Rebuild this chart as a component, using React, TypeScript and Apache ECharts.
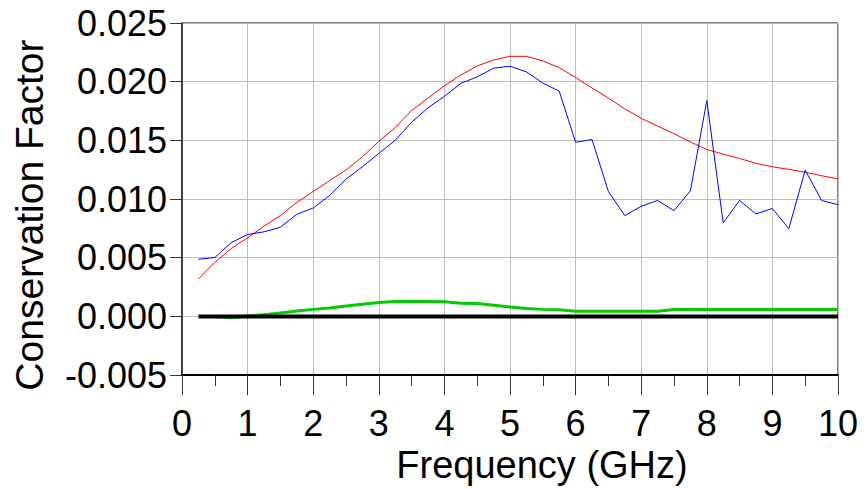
import React, { useEffect, useRef } from "react";
import * as echarts from "echarts";

const freq = [
  0.25, 0.5, 0.75, 1.0, 1.25, 1.5, 1.75, 2.0, 2.25, 2.5, 2.75, 3.0, 3.25, 3.5, 3.75, 4.0,
  4.25, 4.5, 4.75, 5.0, 5.25, 5.5, 5.75, 6.0, 6.25, 6.5, 6.75, 7.0, 7.25, 7.5, 7.75, 8.0,
  8.25, 8.5, 8.75, 9.0, 9.25, 9.5, 9.75, 10.0,
];

const blueValues = [
  0.00487, 0.00502, 0.00628, 0.00698, 0.00721, 0.0076, 0.0087, 0.00924, 0.0103, 0.0117,
  0.01275, 0.01389, 0.015, 0.01655, 0.01777, 0.01875, 0.01985, 0.02041, 0.02115, 0.02132,
  0.02084, 0.01988, 0.0192, 0.01484, 0.01507, 0.01064, 0.00859, 0.00938, 0.00988, 0.00901,
  0.0107, 0.01839, 0.00797, 0.00988, 0.00873, 0.0092, 0.00747, 0.01247, 0.00988, 0.00952,
];

const redValues = [
  0.00318, 0.0046, 0.00578, 0.0067, 0.00769, 0.00859, 0.00971, 0.01064, 0.01157, 0.01247,
  0.0136, 0.01492, 0.01608, 0.01754, 0.01861, 0.01965, 0.02056, 0.02134, 0.02185, 0.02216,
  0.02216, 0.02177, 0.0212, 0.02036, 0.01946, 0.01861, 0.01768, 0.01689, 0.01622, 0.01557,
  0.01487, 0.01422, 0.01383, 0.01346, 0.01304, 0.01275, 0.01253, 0.01228, 0.01199, 0.01171,
];

const greenValues: (number | null)[] = [
  null, 0.0, -0.00012, 0.00003, 0.00014, 0.0003, 0.00046, 0.0006, 0.00072, 0.00088,
  0.00104, 0.00118, 0.00128, 0.00127, 0.00127, 0.00125, 0.00113, 0.0011, 0.00096, 0.0008,
  0.00067, 0.0006, 0.00056, 0.00044, 0.00045, 0.00045, 0.00045, 0.00045, 0.00044, 0.00058,
  0.00059, 0.00059, 0.00058, 0.00058, 0.00058, 0.00058, 0.00058, 0.00058, 0.00058, 0.00058,
];

const blackValues = [
  0, 0, 0, 0, 0, 0, 0, 0, 0, 0, 0, 0, 0, 0, 0, 0, 0, 0, 0, 0,
  0, 0, 0, 0, 0, 0, 0, 0, 0, 0, 0, 0, 0, 0, 0, 0, 0, 0, 0, 0,
];

const xTitle = "Frequency (GHz)";
const yTitle = "Conservation Factor";

const FONT = "'Liberation Sans', Arial, sans-serif";

function pairs(vals: (number | null)[]) {
  return freq.map((f, i) => [f, vals[i]]);
}

export default function App() {
  const ref = useRef<HTMLDivElement>(null);
  useEffect(() => {
    if (!ref.current) return;
    const chart = echarts.init(ref.current, undefined, { renderer: "svg" });
    const lineSeries = (data: any, color: string, width: number, z: number) => ({
      type: "line",
      data,
      showSymbol: false,
      symbol: "none",
      connectNulls: false,
      lineStyle: { color, width },
      z,
      silent: true,
    });
    chart.setOption({
      animation: false,
      backgroundColor: "#ffffff",
      grid: {
        left: 182,
        top: 23,
        right: 29,
        bottom: 113,
        show: true,
        borderColor: "#000000",
        borderWidth: 1,
        backgroundColor: "transparent",
      },
      xAxis: {
        type: "value",
        min: 0,
        max: 10,
        interval: 1,
        name: xTitle,
        nameLocation: "middle",
        nameGap: 67,
        nameTextStyle: {
          fontFamily: FONT,
          fontSize: 38,
          color: "#000",
          padding: [0, 0, 0, 64],
        },
        axisLine: { show: true, onZero: false, lineStyle: { color: "#000", width: 2 } },
        axisTick: { show: true, inside: false, length: 20, lineStyle: { color: "#333", width: 1 } },
        minorTick: { show: true, splitNumber: 2, length: 11, lineStyle: { color: "#333", width: 1 } },
        axisLabel: {
          fontFamily: FONT,
          fontSize: 36,
          color: "#000",
          margin: 30,
        },
        splitLine: { show: true, lineStyle: { color: "#bcbcbc", width: 1 } },
      },
      yAxis: {
        type: "value",
        min: -0.005,
        max: 0.025,
        interval: 0.005,
        name: yTitle,
        nameLocation: "middle",
        nameGap: 133,
        nameRotate: 90,
        nameTextStyle: {
          fontFamily: FONT,
          fontSize: 39,
          color: "#000",
          padding: [0, 32, 0, 0],
        },
        axisLine: { show: true, onZero: false, lineStyle: { color: "#222", width: 1.5 } },
        axisTick: { show: true, inside: false, length: 12, lineStyle: { color: "#333", width: 1 } },
        axisLabel: {
          fontFamily: FONT,
          fontSize: 36,
          color: "#000",
          margin: 15,
          padding: [6, 0, 0, 0],
          formatter: (v: number) => v.toFixed(3),
        },
        splitLine: { show: true, lineStyle: { color: "#bcbcbc", width: 1 } },
      },
      series: [
        lineSeries(pairs(redValues), "#ff0000", 1, 3),
        lineSeries(pairs(blueValues), "#0000ff", 1, 4),
        lineSeries(pairs(greenValues), "#00cc00", 3, 5),
        lineSeries(pairs(blackValues), "#000000", 4, 6),
      ],
    });
    return () => chart.dispose();
  }, []);
  return (
    <div
      ref={ref}
      style={{ position: "absolute", left: 0, top: 0, width: 867, height: 489, background: "#fff" }}
    />
  );
}
